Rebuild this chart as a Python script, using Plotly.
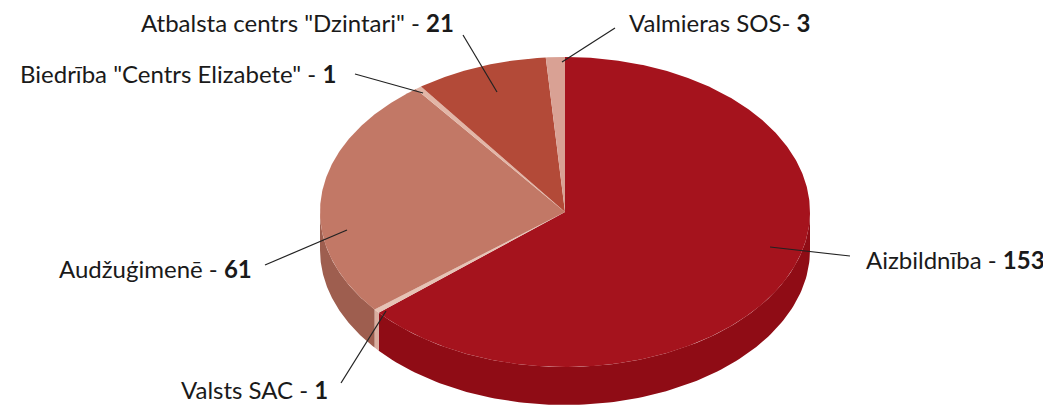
import numpy as np
import plotly.graph_objects as go

# ---- data ----
categories = ["Aizbildnība", "Valsts SAC", "Audžuģimenē",
              "Biedrība \"Centrs Elizabete\"", "Atbalsta centrs \"Dzintari\"", "Valmieras SOS"]
values = [153, 1, 61, 1, 21, 3]
label_sep = [" - ", " - ", " - ", " - ", " - ", "- "]

# ---- styles ----
top_colors = ["#A5131D", "#E6C3B5", "#C27866", "#E2B6A7", "#B34A38", "#D9A194"]
side_colors = ["#8F0C15", "#D9AE9F", "#9E5E4F", "#C99A8B", "#913A2B", "#BF877B"]

CX, CY, RX, RY, DEPTH = 565, 212, 245, 155, 38
W, H = 1051, 408
OFF = 8  # page body margin offset

# label layout: text anchor position, xanchor, leader line (outer -> inner)
label_layout = [
    dict(x=1047, y=259, xa="right", line=((850, 256), (770, 247))),
    dict(x=330, y=389, xa="right", line=((341, 383), (386, 311))),
    dict(x=254, y=268, xa="right", line=((265, 265), (347, 230))),
    dict(x=338, y=73, xa="right", line=((355, 74), (423, 93))),
    dict(x=456, y=22, xa="right", line=((463, 35), (497, 92))),
    dict(x=627, y=22, xa="left", line=((615, 28), (562, 62))),
]


def pt(theta_deg, dy=0.0):
    t = np.radians(theta_deg)
    return CX + RX * np.sin(t), CY - RY * np.cos(t) + dy


total = sum(values)
fig = go.Figure()

starts = []
acc = 0.0
for v in values:
    starts.append(acc)
    acc += v / total * 360.0

# side faces (visible part: 90..270 deg)
for i, v in enumerate(values):
    a = starts[i]
    b = a + v / total * 360.0
    lo, hi = max(a, 90.0), min(b, 270.0)
    if hi <= lo:
        continue
    th = np.linspace(lo, hi, 120)
    xt, yt = pt(th)
    xb, yb = pt(th[::-1], DEPTH)
    fig.add_trace(go.Scatter(
        x=np.concatenate([xt, xb, xt[:1]]), y=np.concatenate([yt, yb, yt[:1]]),
        mode="lines", fill="toself", fillcolor=side_colors[i],
        line=dict(width=0, color=side_colors[i]), hoverinfo="skip", showlegend=False))

# top faces
for i, v in enumerate(values):
    a = starts[i]
    b = a + v / total * 360.0
    th = np.linspace(a, b, max(int((b - a) * 2), 4))
    xt, yt = pt(th)
    fig.add_trace(go.Scatter(
        x=np.concatenate([[CX], xt, [CX]]), y=np.concatenate([[CY], yt, [CY]]),
        mode="lines", fill="toself", fillcolor=top_colors[i],
        line=dict(width=0, color=top_colors[i]), name=categories[i],
        hoverinfo="skip", showlegend=False))

# leader lines and labels
for i, cat in enumerate(categories):
    L = label_layout[i]
    (x0, y0), (x1, y1) = L["line"]
    fig.add_shape(type="line", x0=x0, y0=y0, x1=x1, y1=y1,
                  line=dict(color="#222222", width=1.2), xref="x", yref="y")
    fig.add_annotation(x=L["x"], y=L["y"], xref="x", yref="y",
                       text=f"{cat}{label_sep[i]}<b>{values[i]}</b>",
                       xanchor=L["xa"], yanchor="middle", showarrow=False,
                       font=dict(family="Lato", size=24, color="#1a1a1a"))

fig.update_layout(
    width=W, height=H, margin=dict(l=0, r=0, t=0, b=0),
    paper_bgcolor="white", plot_bgcolor="white",
    xaxis=dict(range=[OFF, W + OFF], visible=False, fixedrange=True),
    yaxis=dict(range=[H + OFF, OFF], visible=False, fixedrange=True),
)
fig.write_html("out.html")
